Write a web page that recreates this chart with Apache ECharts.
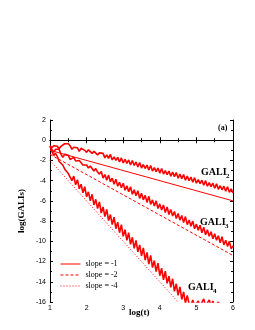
<!DOCTYPE html>
<html><head><meta charset="utf-8">
<script src="https://cdn.jsdelivr.net/npm/echarts@6/dist/echarts.min.js"></script>
<style>html,body{margin:0;padding:0;background:#fff}#c{width:255px;height:330px}</style>
</head><body><div id="c"></div>
<script>
var logT = [];
for (var i = 0; i <= 100; i++) logT.push(+(1 + i * 0.05).toFixed(2));

var gali2 = [-0.55,-0.75,-0.55,-0.45,-0.60,-0.85,-0.60,-0.45,-0.35,-0.30,
-0.35,-0.55,-0.90,-0.70,-0.60,-0.75,-1.10,-0.80,-0.75,-1.00,
-1.20,-0.95,-1.05,-1.30,-1.10,-1.20,-1.45,-1.25,-1.40,-1.30,
-1.75,-1.45,-1.80,-1.40,-1.95,-1.65,-2.00,-1.70,-2.15,-1.75,
-2.25,-1.90,-2.30,-1.95,-2.45,-2.00,-2.50,-2.15,-2.65,-2.20,
-2.75,-2.40,-2.80,-2.45,-2.95,-2.50,-3.05,-2.70,-3.10,-2.75,
-3.25,-2.80,-3.35,-3.00,-3.40,-3.05,-3.55,-3.15,-3.60,-3.20,
-3.75,-3.35,-3.80,-3.40,-3.95,-3.55,-4.00,-3.65,-4.15,-3.70,
-4.25,-3.90,-4.30,-3.95,-4.45,-4.00,-4.55,-4.20,-4.60,-4.25,
-4.75,-4.30,-4.85,-4.50,-4.90,-4.55,-5.05,-4.60,-5.15,-4.80,-5.20];

var gali3 = [-0.60,-0.90,-1.20,-0.90,-0.75,-0.90,-1.40,-1.70,-1.40,-1.30,
-1.50,-1.90,-1.75,-1.70,-2.05,-2.20,-2.00,-2.10,-2.45,-2.30,
-2.45,-2.75,-2.55,-2.80,-3.05,-2.80,-3.15,-3.35,-3.10,-3.75,
-3.40,-3.95,-3.45,-4.10,-3.75,-4.35,-3.85,-4.55,-4.15,-4.70,
-4.25,-4.95,-4.50,-5.10,-4.60,-5.35,-4.90,-5.50,-5.00,-5.75,
-5.25,-5.90,-5.45,-6.15,-5.55,-6.35,-5.90,-6.50,-6.00,-6.75,
-6.30,-6.90,-6.40,-7.15,-6.60,-7.35,-6.85,-7.50,-7.05,-7.75,
-7.25,-7.90,-7.45,-8.15,-7.55,-8.35,-7.90,-8.50,-8.00,-8.75,
-8.30,-8.90,-8.40,-9.15,-8.60,-9.35,-8.85,-9.50,-9.05,-9.75,
-9.25,-9.90,-9.45,-10.15,-9.55,-10.35,-9.90,-10.50,-10.00,-10.75,-10.45];

var gali4 = [-0.60,-1.10,-1.50,-1.30,-1.60,-2.10,-2.00,-2.45,-2.85,-2.70,
-3.30,-3.20,-4.00,-3.55,-4.40,-3.90,-4.80,-4.35,-5.20,-4.60,
-5.60,-5.10,-6.00,-5.35,-6.40,-5.85,-6.75,-6.10,-7.20,-6.60,
-7.55,-6.85,-7.95,-7.35,-8.35,-7.60,-8.75,-8.10,-9.15,-8.35,
-9.50,-8.85,-9.90,-9.15,-10.30,-9.60,-10.70,-9.90,-11.05,-10.35,
-11.45,-10.65,-11.85,-11.10,-12.25,-11.40,-12.60,-11.90,-13.00,-12.15,
-13.40,-12.65,-13.80,-12.95,-14.15,-13.45,-14.55,-13.70,-14.95,-14.20,
-15.35,-14.50,-15.75,-15.00,-16.10,-15.35,-16.20,-16.40,-15.80,-16.40,
-16.40,-15.90,-16.40,-16.40,-15.70,-16.40,-16.40,-15.80,-16.40,-15.90,
-16.40,-16.40,-16.00,-16.40,-16.40,-16.40,-16.40,-16.40,-16.40,-16.40,-16.40];

var slope1 = [[1, -1], [6, -6]];
var slope2 = [[1, -1.4], [6, -11.4]];
var slope4 = [[1, -2], [4.5, -16]];

var xTicks = [1, 2, 3, 4, 5, 6];
var yTicks = [2, 0, -2, -4, -6, -8, -10, -12, -14, -16];

function pairs(arr) { return logT.map(function (t, i) { return [t, arr[i]]; }); }

var RED = '#ff0000';
var serif = 'Liberation Serif';
var sans = 'Liberation Sans';

var chart = echarts.init(document.getElementById('c'), null, {renderer: 'canvas'});
var axCommon = {
  axisLine: {show: true, lineStyle: {color: '#000', width: 1}},
  axisTick: {show: true, inside: true, length: 3, lineStyle: {color: '#000'}},
  minorTick: {show: true, splitNumber: 2, length: 2, lineStyle: {color: '#000'}},
  splitLine: {show: false}
};
function galiSeries(name, arr) {
  return {name: name, type: 'line', data: pairs(arr), showSymbol: false, symbol: 'none',
    lineStyle: {color: RED, width: 1.6}, itemStyle: {color: RED}, z: 3};
}
chart.setOption({
  animation: false,
  grid: {left: 50, top: 120, right: 22, bottom: 28},
  xAxis: [
    Object.assign({type: 'value', min: xTicks[0], max: xTicks[xTicks.length - 1], interval: 1, position: 'bottom',
      axisLabel: {fontFamily: sans, fontSize: 7, color: '#000', margin: 3}}, axCommon),
    Object.assign({type: 'value', min: 1, max: 6, interval: 1, position: 'top', axisLabel: {show: false}}, axCommon)
  ],
  yAxis: [
    Object.assign({type: 'value', min: yTicks[yTicks.length - 1], max: yTicks[0], interval: 2, position: 'left',
      axisLabel: {fontFamily: sans, fontSize: 7, color: '#000', margin: 4}}, axCommon),
    Object.assign({type: 'value', min: -16, max: 2, interval: 2, position: 'right', axisLabel: {show: false}}, axCommon)
  ],
  legend: {
    orient: 'vertical', left: 60, top: 260, itemWidth: 20, itemHeight: 8, itemGap: 3, padding: 0,
    itemStyle: {opacity: 0},
    lineStyle: {width: 1},
    textStyle: {fontFamily: serif, fontSize: 8, color: '#000'},
    data: ['slope = -1', 'slope = -2', 'slope = -4']
  },
  series: [
    galiSeries('GALI2', gali2),
    galiSeries('GALI3', gali3),
    galiSeries('GALI4', gali4),
    {name: 'slope = -1', type: 'line', data: slope1, symbol: 'none', lineStyle: {color: RED, width: 1, type: 'solid'}, itemStyle: {color: RED}},
    {name: 'slope = -2', type: 'line', data: slope2, symbol: 'none', lineStyle: {color: RED, width: 1, type: [3, 2]}, itemStyle: {color: RED}},
    {name: 'slope = -4', type: 'line', data: slope4, symbol: 'none', lineStyle: {color: RED, width: 1, type: [1, 2]}, itemStyle: {color: RED}}
  ],
  graphic: [
    {type: 'text', left: 218, top: 124, style: {text: '(a)', font: 'bold 8px ' + serif, fill: '#000'}},
    {type: 'text', left: 201, top: 167, style: {text: 'GALI', font: 'bold 10px ' + serif, fill: '#000'}},
    {type: 'text', left: 226, top: 173, style: {text: '2', font: 'bold 7px ' + serif, fill: '#000'}},
    {type: 'text', left: 200, top: 217, style: {text: 'GALI', font: 'bold 10px ' + serif, fill: '#000'}},
    {type: 'text', left: 225, top: 223, style: {text: '3', font: 'bold 7px ' + serif, fill: '#000'}},
    {type: 'text', left: 188, top: 282, style: {text: 'GALI', font: 'bold 10px ' + serif, fill: '#000'}},
    {type: 'text', left: 213, top: 288, style: {text: '4', font: 'bold 7px ' + serif, fill: '#000'}},
    {type: 'text', left: 129, top: 308, style: {text: 'log(t)', font: 'bold 9px ' + serif, fill: '#000'}},
    {type: 'text', x: 22, y: 211, rotation: Math.PI / 2, style: {text: 'log(GALIs)', font: 'bold 9px ' + serif, fill: '#000', align: 'center', verticalAlign: 'middle'}}
  ]
});
</script></body></html>
